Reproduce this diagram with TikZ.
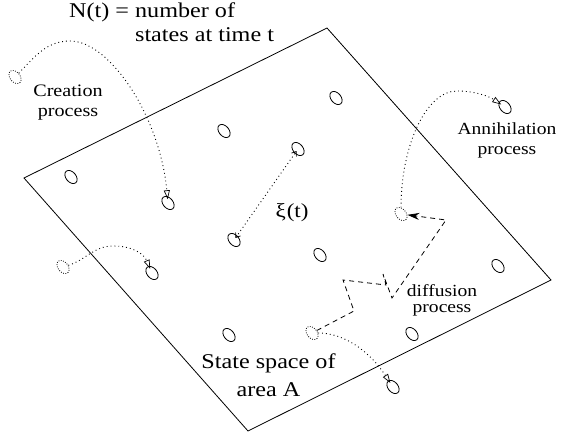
\documentclass[tikz,border=0pt]{standalone}
\usepackage{fontspec}
\setmainfont{Liberation Serif}[FakeStretch=1.15]
\usetikzlibrary{shapes.geometric,arrows.meta}
\tikzset{
  frame/.style={line width=0.8pt, line join=miter},
  state/.style={ellipse, draw, line width=0.8pt, inner sep=0pt, minimum width=15pt, minimum height=10pt, rotate=-50},
  ghost/.style={ellipse, draw, line width=0.8pt, dash pattern=on 0.8pt off 1.5pt, inner sep=0pt, minimum width=15pt, minimum height=10pt, rotate=-50},
  dotline/.style={line width=0.9pt, dash pattern=on 0.9pt off 3pt},
  proc/.style={dotline, -{Triangle[open,length=9pt,width=6pt,line width=0.7pt]}, shorten >=-3pt},
  dist/.style={dotline, {Straight Barb[length=4pt,width=6pt,line width=0.7pt]}-{Straight Barb[length=4pt,width=6pt,line width=0.7pt]}, shorten >=-3pt, shorten <=-3pt},
  walk/.style={line width=0.8pt, dash pattern=on 5pt off 4pt, -{Stealth[length=12pt,width=7pt,inset=4pt]}},
  lbl/.style={inner sep=0pt, anchor=base},
}
\newcommand{\twolines}[3]{\begin{tabular}[t]{@{}#1@{}}#2\\#3\end{tabular}}
\begin{document}
\begin{tikzpicture}[x=1pt,y=1pt]
\useasboundingbox (0,0) rectangle (562,437);
% frame (state space)
\coordinate (L) at (24,259);
\coordinate (T) at (327,409);
\coordinate (R) at (551,157);
\coordinate (B) at (248,6);
\draw[frame] (L) -- (T) -- (R) -- (B) -- cycle;
% states
\node[state] (s1) at (71,260) {};
\node[state] (s2) at (224,306) {};
\node[state] (s3) at (336,339) {};
\node[state] (s4) at (298,288) {};
\node[state] (s5) at (168,234) {};
\node[state] (s6) at (234,197) {};
\node[state] (s7) at (320,182) {};
\node[state] (s8) at (229,102) {};
\node[state] (s9) at (498,171) {};
\node[state] (s10) at (412,103) {};
\node[state] (s11) at (152,164) {};
\node[state] (s12) at (505,330) {};
\node[state] (s13) at (393,50) {};
% ghost states
\node[ghost] (g1) at (15,360) {};
\node[ghost] (g2) at (63,170) {};
\node[ghost] (g3) at (401,223) {};
\node[ghost] (g4) at (312,104) {};
% waypoints
\coordinate (c1) at (70,396);
\coordinate (c2) at (113,191);
\coordinate (a3) at (457,346);
\coordinate (d1) at (354,126);
\coordinate (d2) at (343,157);
\coordinate (d3) at (386,152);
\coordinate (d4) at (383,163);
\coordinate (d5) at (392,139);
\coordinate (d6) at (446,217);
% processes
\draw[proc] (g1) to[out=55,in=180] (c1) .. controls (110,396) and (160,320) .. (s5);
\draw[proc] (g2) to[out=30,in=180] (c2) to[out=0,in=125] (s11);
\draw[proc] (g3) .. controls (401,291) and (426,346) .. (a3) .. controls (476,346) and (490,340) .. (s12);
\draw[proc] (g4) .. controls (345,104) and (370,85) .. (s13);
\draw[dist] (s6) -- (s4);
\draw[walk] (g4) -- (d1) -- (d2) -- (d3) -- (d4) -- (d5) -- (d6) -- (g3);
% labels
\node[lbl, anchor=base west, font=\fontsize{21}{24}\selectfont] (title) at (69,419)
  {N(t) = \twolines{l}{number of}{states at time t}};
\node[lbl, font=\fontsize{17.5}{19.5}\selectfont] (creation) at (68,340)
  {\twolines{c}{Creation}{process}};
\node[lbl, font=\fontsize{17}{20}\selectfont] (annih) at (507,302)
  {\twolines{c}{Annihilation}{process}};
\node[lbl, font=\fontsize{17}{16}\selectfont] (diff) at (442,141)
  {\twolines{c}{diffusion}{process}};
\node[lbl, font=\fontsize{20}{24}\selectfont] (xi) at (292,219) {ξ\kern1pt(t)};
\node[lbl, font=\fontsize{21}{28}\selectfont] (space) at (268.5,69)
  {\twolines{c}{State space of}{area A}};
\end{tikzpicture}
\end{document}
